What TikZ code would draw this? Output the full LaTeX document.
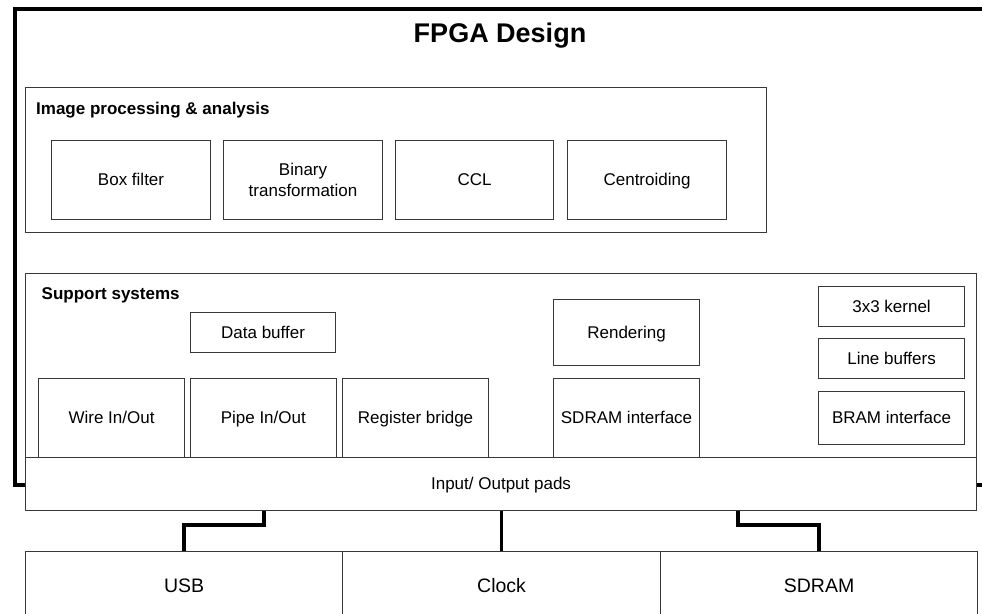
\documentclass[tikz,border=0pt]{standalone}
\usepackage{fontspec}
\setmainfont{Liberation Sans}
\usetikzlibrary{calc}

\tikzset{
  thinline/.style={draw=black!78, line width=1.1pt},
  blk/.style={thinline, fill=white, inner sep=0pt, anchor=north west, align=center,
              font=\fontsize{17}{20.5}\selectfont, text height=15.4pt, text depth=3.6pt},
  twoline/.style={text height=, text depth=},
  extbox/.style={blk, font=\fontsize{19.5}{22}\selectfont, text height=17.6pt, text depth=4.1pt},
  grouptitle/.style={anchor=base west, inner sep=0pt, font=\fontsize{17}{20}\selectfont\bfseries},
  frameline/.style={draw=black, line width=3.6pt},
  wire/.style={draw=black, line width=3.6pt},
}
\newcommand{\blkat}[7][]{% options, name, x, y, width, height, text
  \node[blk, minimum width=#5pt, minimum height=#6pt, #1] (#2) at (#3,#4) {#7};}

\begin{document}
\begin{tikzpicture}[x=1pt, y=-1pt]
\useasboundingbox (0,0) rectangle (982,613);
\fill[white] (0,0) rectangle (982,613);

% FPGA container (right edge runs past the page)
\node[frameline, anchor=north west, inner sep=0pt,
      minimum width=990pt, minimum height=476pt] (fpga) at (13,7) {};
\node[font=\fontsize{27}{30}\selectfont\bfseries, inner sep=0pt,
      text height=19.3pt, text depth=0pt] (fpgatitle) at (500,33) {FPGA Design};

% Image processing group
\node[thinline, anchor=north west, inner sep=0pt,
      minimum width=741pt, minimum height=145pt] (imgproc) at (25,87) {};
\node[grouptitle] (imgtitle) at (36,114) {Image processing \& analysis};
\blkat{boxfilt}{51}{140}{159}{79}{Box filter}
\blkat[twoline]{binary}{223}{140}{159}{79}{Binary\\transformation}
\blkat{ccl}{395}{140}{158}{79}{CCL}
\blkat{centroid}{567}{140}{159}{79}{Centroiding}

% Support systems group
\node[thinline, anchor=north west, inner sep=0pt,
      minimum width=951pt, minimum height=190pt] (support) at (25,273) {};
\node[grouptitle] (suptitle) at (41.5,299) {Support systems};
\blkat{databuf}{190}{312}{145}{40}{Data buffer}
\blkat{wireio}{38}{378}{146}{79}{Wire In/Out}
\blkat{pipeio}{190}{378}{145.5}{79}{Pipe In/Out}
\blkat{regbridge}{342}{378}{146}{79}{Register bridge}
\blkat{render}{553}{299}{146}{66}{Rendering}
\blkat{sdramif}{553}{378}{146}{79}{SDRAM interface}
\blkat{kernel}{818}{286}{146}{39.5}{3x3 kernel}
\blkat{linebuf}{818}{338}{146}{40}{Line buffers}
\blkat{bramif}{818}{391}{146}{53}{BRAM interface}

% I/O pads bar
\blkat{io}{25}{457}{951}{53}{Input/ Output pads}

% External devices (lower edges run past the page)
\node[extbox, minimum width=317pt, minimum height=68pt] (usb) at (25,551) {USB};
\node[extbox, minimum width=318pt, minimum height=68pt] (clock) at (342,551) {Clock};
\node[extbox, minimum width=317pt, minimum height=68pt] (sdram) at (660,551) {SDRAM};

% Connections from the pads to the devices
\draw[wire] ([xshift=-237pt]io.south) -- ++(0,14) -| (usb.north);
\draw[wire] (io.south -| clock.north) -- (clock.north);
\draw[wire] ([xshift=237pt]io.south) -- ++(0,14) -| (sdram.north);
\end{tikzpicture}
\end{document}
